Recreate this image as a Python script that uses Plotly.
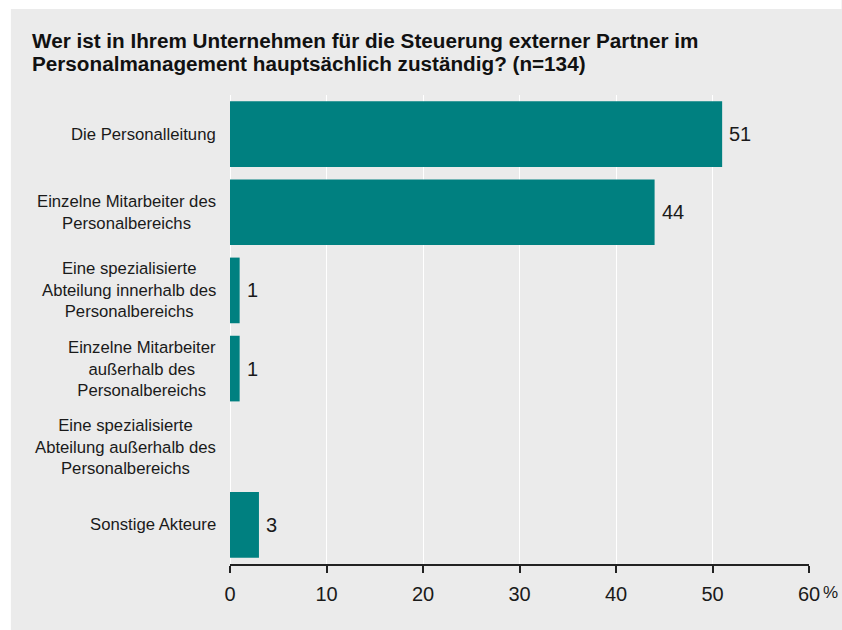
import plotly.graph_objects as go

# Survey answers (share of respondents, %)
categories = [
    "Die Personalleitung",
    "Einzelne Mitarbeiter des<br>Personalbereichs",
    "Eine spezialisierte<br>Abteilung innerhalb des<br>Personalbereichs",
    "Einzelne Mitarbeiter<br>außerhalb des<br>Personalbereichs",
    "Eine spezialisierte<br>Abteilung außerhalb des<br>Personalbereichs",
    "Sonstige Akteure",
]
values = [51, 44, 1, 1, 0, 3]
x_ticks = [0, 10, 20, 30, 40, 50, 60]
title_lines = [
    "Wer ist in Ihrem Unternehmen für die Steuerung externer Partner im",
    "Personalmanagement hauptsächlich zuständig? (n=134)",
]
unit_label = "%"

W, H = 842, 630
ML, MR, MT, MB = 229.5, 32.5, 95, 66
PW, PH = W - ML - MR, H - MT - MB

BG = "#ebebeb"
BAR = "#008080"
TXT = "#1a1a1a"
FONT = "Liberation Sans, Arial, Helvetica, sans-serif"


def px_x(px):
    return (px - ML) / PW


def px_y(py):
    return (H - MB - py) / PH


fig = go.Figure(
    go.Bar(
        x=values,
        y=categories,
        orientation="h",
        marker=dict(color=BAR, line=dict(width=0)),
        width=0.84,
        hoverinfo="skip",
    )
)

annotations = []

# value labels to the right of each bar
for cat, v in zip(categories, values):
    if v:
        annotations.append(dict(
            x=v, y=cat, xref="x", yref="y", text=str(v), showarrow=False,
            xanchor="left", yanchor="middle", xshift=5,
            font=dict(size=20, color=TXT, family=FONT),
        ))

# centred multi-line category labels left of the plot
for cat in categories:
    annotations.append(dict(
        x=px_x(217), y=cat, xref="paper", yref="y", text=cat, showarrow=False,
        xanchor="right", yanchor="middle", align="center",
        font=dict(size=16.7, color=TXT, family=FONT),
    ))

# two-line bold heading
for i, line in enumerate(title_lines):
    annotations.append(dict(
        x=px_x(29), y=px_y(40 + 23 * i), xref="paper", yref="paper",
        text=f"<b>{line}</b>", showarrow=False,
        xanchor="left", yanchor="middle", align="left",
        font=dict(size=20.7, color="#111111", family=FONT),
    ))

# unit next to the last tick label
annotations.append(dict(
    x=px_x(831), y=px_y(592), xref="paper", yref="paper", text=unit_label,
    showarrow=False, xanchor="center", yanchor="middle",
    font=dict(size=17, color=TXT, family=FONT),
))

# white strips along the top and left edge of the canvas
shapes = [
    dict(type="rect", xref="paper", yref="paper", layer="below",
         x0=px_x(0), x1=px_x(W), y0=px_y(9), y1=px_y(-2),
         fillcolor="white", line=dict(width=0)),
    dict(type="rect", xref="paper", yref="paper", layer="below",
         x0=px_x(-2), x1=px_x(10), y0=px_y(H + 2), y1=px_y(-2),
         fillcolor="white", line=dict(width=0)),
]

fig.update_layout(
    width=W,
    height=H,
    margin=dict(l=ML, r=MR, t=MT, b=MB, pad=0),
    paper_bgcolor=BG,
    plot_bgcolor=BG,
    showlegend=False,
    bargap=0.16,
    annotations=annotations,
    shapes=shapes,
    font=dict(family=FONT, color=TXT),
)

fig.update_xaxes(
    range=[0, 60],
    tickvals=x_ticks,
    ticktext=[str(t) for t in x_ticks],
    showgrid=True,
    gridcolor="white",
    gridwidth=1,
    zeroline=True,
    zerolinecolor="white",
    zerolinewidth=1,
    showline=True,
    linecolor="#222222",
    linewidth=1.5,
    ticks="outside",
    ticklen=7,
    tickwidth=1.5,
    tickcolor="#222222",
    ticklabelstandoff=4,
    tickfont=dict(size=20, color=TXT, family=FONT),
    fixedrange=True,
)

fig.update_yaxes(
    categoryorder="array",
    categoryarray=categories,
    autorange="reversed",
    showticklabels=False,
    showgrid=False,
    zeroline=False,
    showline=False,
    ticks="",
    fixedrange=True,
)

fig.write_html("out.html", config={"displayModeBar": False})
